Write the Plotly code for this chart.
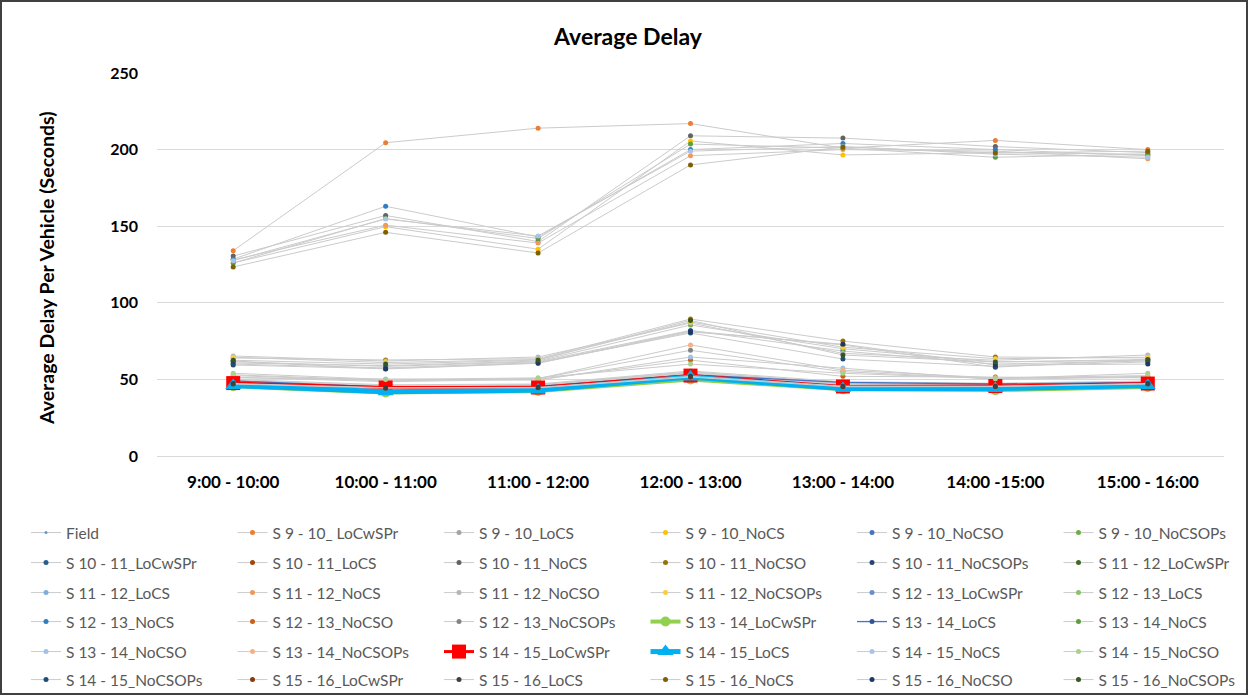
import plotly.graph_objects as go

# Hourly periods on the category axis
periods = ["9:00 - 10:00", "10:00 - 11:00", "11:00 - 12:00", "12:00 - 13:00",
           "13:00 - 14:00", "14:00 -15:00", "15:00 - 16:00"]

# Average delay per vehicle (seconds) for each scenario
field = [48.5, 45.5, 46.5, 55, 47.5, 46.5, 48.5]
s0910_locwspr = [134, 204.5, 214, 217, 201, 206, 200]
s0910_locs = [48, 44.5, 45.5, 53, 46.5, 45.5, 47.5]
s0910_nocs = [126, 149.7, 135, 205.6, 196.5, 198, 197]
s0910_nocso = [61.5, 58.5, 61.5, 82, 68.5, 60, 62]
s0910_nocsops = [60.7, 59, 62, 85.5, 70, 61.4, 62.5]
s1011_locwspr = [49, 45, 46, 54, 47, 46, 48]
s1011_locs = [47, 44, 45, 52, 46, 45, 47]
s1011_nocs = [130.5, 157, 140, 209, 207.5, 202, 198]
s1011_nocso = [64, 62.7, 63.5, 89.4, 75, 64.6, 64]
s1011_nocsops = [59.4, 57, 60.7, 81.6, 72.5, 58, 63]
s1112_locwspr = [48, 45, 46, 53, 47.5, 46, 48]
s1112_locs = [49.5, 46, 46.5, 54.5, 48, 47, 48.5]
s1112_nocs = [128, 150.7, 139, 196, 200, 199, 194]
s1112_nocso = [65.3, 62, 64.6, 86.8, 67, 62.5, 65.9]
s1112_nocsops = [64.5, 61, 63, 87.5, 71, 63.5, 64.5]
s1213_locwspr = [48.5, 45, 46, 53.5, 47, 46.5, 47.5]
s1213_locs = [50, 46.5, 47, 55.5, 48.5, 47.5, 49]
s1213_nocs = [128.5, 163, 143, 200, 204, 200, 196]
s1213_nocso = [51.5, 48.5, 50, 62.6, 52, 51.6, 51]
s1213_nocsops = [52.5, 49, 50.5, 69, 55, 50.5, 52]
s1314_locwspr = [45.5, 41.5, 42.5, 50, 43.5, 43, 45]
s1314_locs = [49, 45, 45.5, 53, 48, 47, 48]
s1314_nocs = [126, 155, 142, 203.6, 201, 195, 197]
s1314_nocso = [51, 50.3, 49.5, 64.6, 57.4, 50, 51.5]
s1314_nocsops = [53, 49.5, 50.5, 72.5, 56, 51, 52.5]
s1415_locwspr = [47.6, 44.7, 44.7, 52.5, 45.4, 45.7, 47.3]
s1415_locs = [46, 42, 43, 51.5, 44, 44, 46]
s1415_nocs = [127.5, 154.7, 143.6, 199, 202, 197, 195]
s1415_nocso = [54, 50, 51, 60, 54, 50.5, 54]
s1415_nocsops = [60, 57.5, 61, 80.3, 63.3, 58.5, 61.4]
s1516_locwspr = [47, 44.3, 44.5, 51.5, 45.2, 45.3, 47]
s1516_locs = [47.3, 44.6, 44.8, 52, 45.6, 45.6, 47.3]
s1516_nocs = [123.4, 146, 132.5, 190, 201.7, 197.8, 199]
s1516_nocso = [62, 56.8, 60.5, 81, 73, 59.4, 60]
s1516_nocsops = [62.5, 60, 62.6, 88.5, 65.9, 61.4, 63]

series = [
    ("Field", field, "#5B9BD5"),
    ("S 9 - 10_ LoCwSPr", s0910_locwspr, "#ED7D31"),
    ("S 9 - 10_LoCS", s0910_locs, "#A5A5A5"),
    ("S 9 - 10_NoCS", s0910_nocs, "#FFC000"),
    ("S 9 - 10_NoCSO", s0910_nocso, "#4472C4"),
    ("S 9 - 10_NoCSOPs", s0910_nocsops, "#70AD47"),
    ("S 10 - 11_LoCwSPr", s1011_locwspr, "#255E91"),
    ("S 10 - 11_LoCS", s1011_locs, "#9E480E"),
    ("S 10 - 11_NoCS", s1011_nocs, "#636363"),
    ("S 10 - 11_NoCSO", s1011_nocso, "#997300"),
    ("S 10 - 11_NoCSOPs", s1011_nocsops, "#264478"),
    ("S 11 - 12_LoCwSPr", s1112_locwspr, "#43682B"),
    ("S 11 - 12_LoCS", s1112_locs, "#7CAFDD"),
    ("S 11 - 12_NoCS", s1112_nocs, "#F1975A"),
    ("S 11 - 12_NoCSO", s1112_nocso, "#B7B7B7"),
    ("S 11 - 12_NoCSOPs", s1112_nocsops, "#FFCD33"),
    ("S 12 - 13_LoCwSPr", s1213_locwspr, "#698ED0"),
    ("S 12 - 13_LoCS", s1213_locs, "#8CC168"),
    ("S 12 - 13_NoCS", s1213_nocs, "#327DC2"),
    ("S 12 - 13_NoCSO", s1213_nocso, "#CC5F17"),
    ("S 12 - 13_NoCSOPs", s1213_nocsops, "#848484"),
    ("S 13 - 14_LoCwSPr", s1314_locwspr, "#92D050"),
    ("S 13 - 14_LoCS", s1314_locs, "#2F5597"),
    ("S 13 - 14_NoCS", s1314_nocs, "#5F9E3E"),
    ("S 13 - 14_NoCSO", s1314_nocso, "#9DC3E6"),
    ("S 13 - 14_NoCSOPs", s1314_nocsops, "#F4B183"),
    ("S 14 - 15_LoCwSPr", s1415_locwspr, "#FF0000"),
    ("S 14 - 15_LoCS", s1415_locs, "#00B0F0"),
    ("S 14 - 15_NoCS", s1415_nocs, "#A9C4EB"),
    ("S 14 - 15_NoCSO", s1415_nocso, "#A9D18E"),
    ("S 14 - 15_NoCSOPs", s1415_nocsops, "#1F4E79"),
    ("S 15 - 16_LoCwSPr", s1516_locwspr, "#843C0C"),
    ("S 15 - 16_LoCS", s1516_locs, "#404040"),
    ("S 15 - 16_NoCS", s1516_nocs, "#7F6000"),
    ("S 15 - 16_NoCSO", s1516_nocso, "#1F3864"),
    ("S 15 - 16_NoCSOPs", s1516_nocsops, "#375623"),
]

# Highlighted scenarios get their own line/marker styling
special = {
    "Field": dict(line=dict(color="#C9C9C9", width=1), marker=dict(size=3, symbol="circle")),
    "S 13 - 14_LoCwSPr": dict(line=dict(color="#92D050", width=4), marker=dict(size=10, symbol="circle")),
    "S 13 - 14_LoCS": dict(line=dict(color="#4472C4", width=1.3), marker=dict(size=5, symbol="circle")),
    "S 14 - 15_LoCwSPr": dict(line=dict(color="#FF0000", width=3), marker=dict(size=14, symbol="square")),
    "S 14 - 15_LoCS": dict(line=dict(color="#00B0F0", width=5), marker=dict(size=14, symbol="triangle-up")),
}

FONT = "Lato, 'Liberation Sans', sans-serif"

fig = go.Figure()
for i, (name, values, color) in enumerate(series):
    style = special.get(name, dict(line=dict(color="#CBCBCB", width=1),
                                   marker=dict(size=5, symbol="circle")))
    row, col = divmod(i, 6)
    fig.add_trace(go.Scatter(
        x=periods, y=values, name=name, mode="lines+markers",
        line=style["line"],
        marker=dict(color=color, size=style["marker"]["size"],
                    symbol=style["marker"]["symbol"], line=dict(width=0)),
        legend="legend" if row == 0 else f"legend{row + 1}",
        # last column keeps a narrower slot so each row stays on one line
        legendwidth=138 if col == 5 else None,
    ))

W, H = 1249, 696
L, R, T, B = 157, 25, 73, 240
pw, ph = W - L - R, H - T - B


def px_x(px):
    return (px - L) / pw


def px_y(py):
    return (H - B - py) / ph


# One horizontal legend per row of six entries
row_centers = [533, 563, 593, 622, 652, 680]
legend_layout = {}
for r, yc in enumerate(row_centers):
    key = "legend" if r == 0 else f"legend{r + 1}"
    legend_layout[key] = dict(
        orientation="h", xref="paper", yref="paper",
        x=px_x(26), y=px_y(yc), xanchor="left", yanchor="middle",
        entrywidth=161.5, entrywidthmode="pixels",
        font=dict(family=FONT, size=15.5, color="#595959"),
        bgcolor="rgba(0,0,0,0)", borderwidth=0, traceorder="normal",
    )

fig.update_layout(
    width=W, height=H,
    margin=dict(l=L, r=R, t=T, b=B, autoexpand=False),
    paper_bgcolor="white", plot_bgcolor="white",
    title=dict(text="Average Delay", xref="container", yref="container",
               x=628 / W, y=1 - 37 / H, xanchor="center", yanchor="middle",
               font=dict(family=FONT, size=23, color="#000000", weight="bold")),
    showlegend=True,
    **legend_layout,
)

fig.update_xaxes(
    type="category", range=[-0.5, 6.5], showgrid=False, showline=False,
    zeroline=False, ticks="", ticklabelstandoff=14,
    tickfont=dict(family=FONT, size=17, color="#000000", weight="bold"),
)
fig.update_yaxes(
    range=[0, 250], dtick=50, showgrid=True, gridcolor="#D9D9D9", gridwidth=1,
    zeroline=True, zerolinecolor="#D9D9D9", zerolinewidth=1, showline=False,
    ticks="", ticklabelstandoff=18,
    tickfont=dict(family=FONT, size=16, color="#000000", weight="bold"),
)

# Vertical axis title
fig.add_annotation(
    text="Average Delay Per Vehicle (Seconds)", textangle=-90,
    xref="paper", yref="paper", x=px_x(46), y=px_y(268),
    xanchor="center", yanchor="middle", showarrow=False,
    font=dict(family=FONT, size=19.5, color="#000000", weight="bold"),
)

# Outer chart border
fig.add_shape(
    type="rect", xref="paper", yref="paper",
    x0=px_x(1), x1=px_x(1247), y0=px_y(694), y1=px_y(1),
    line=dict(color="#404040", width=2), fillcolor="rgba(0,0,0,0)", layer="above",
)

fig.write_html("out.html")
